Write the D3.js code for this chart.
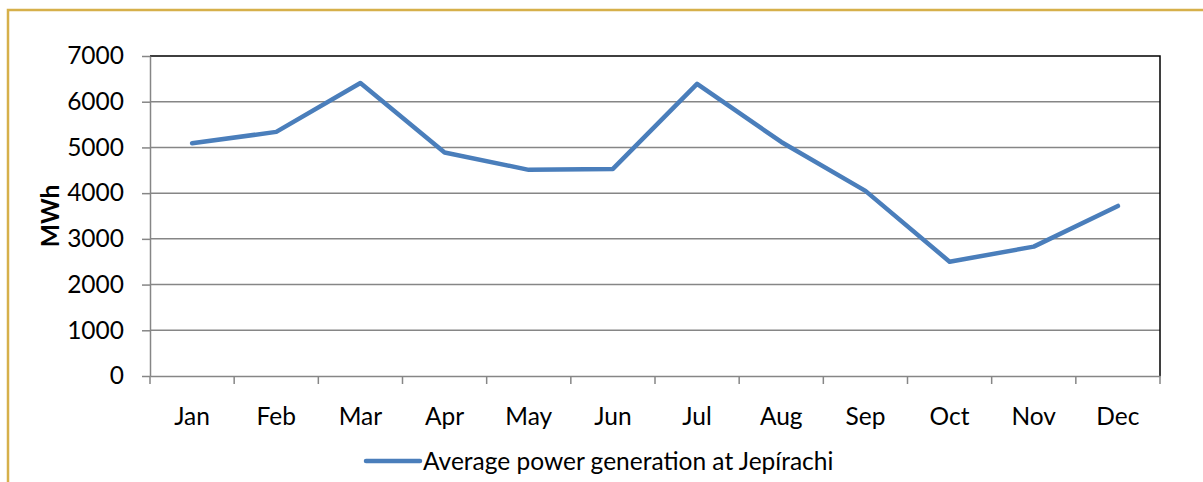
<!DOCTYPE html>
<html>
<head>
<meta charset="utf-8">
<script src="https://cdn.jsdelivr.net/npm/d3@7"></script>
<style>
  body { margin: 0; background: #fff; }
  svg text { font-family: Lato, "Open Sans", sans-serif; fill: #000; }
</style>
</head>
<body>
<svg id="chart"></svg>
<script>
// Chart data
const months = ["Jan", "Feb", "Mar", "Apr", "May", "Jun", "Jul", "Aug", "Sep", "Oct", "Nov", "Dec"];
const generation = [5090, 5340, 6410, 4890, 4510, 4530, 6390, 5120, 4050, 2500, 2830, 3720];
const yTicks = [0, 1000, 2000, 3000, 4000, 5000, 6000, 7000];
const seriesName = "Average power generation at Jepírachi";

const width = 1203;
const height = 482;
const margin = { top: 56, right: 43, bottom: 106, left: 150 };
const fontSize = "24.5px";

const svg = d3.select("#chart")
    .attr("width", width)
    .attr("height", height);

// Gold frame round the chart
svg.append("rect")
    .attr("x", 8)
    .attr("y", 10)
    .attr("width", width + 20)
    .attr("height", height + 20)
    .attr("fill", "none")
    .attr("stroke", "#d6b04a")
    .attr("stroke-width", 2.5);

const x = d3.scaleBand()
    .domain(months)
    .range([margin.left, width - margin.right]);

const y = d3.scaleLinear()
    .domain([0, 7000])
    .range([height - margin.bottom, margin.top]);

const plotRight = width - margin.right;
const plotBottom = height - margin.bottom;

// Horizontal gridlines
svg.append("g")
    .selectAll("line")
    .data(yTicks.slice(1, -1))
    .enter()
    .append("line")
    .attr("x1", margin.left)
    .attr("x2", plotRight)
    .attr("y1", d => y(d))
    .attr("y2", d => y(d))
    .attr("stroke", "#868686")
    .attr("stroke-width", 1.5);

// Plot area outline: top and right in black
svg.append("path")
    .attr("d", `M${margin.left},${margin.top}H${plotRight}V${plotBottom}`)
    .attr("fill", "none")
    .attr("stroke", "#000")
    .attr("stroke-width", 1.5);

// Y axis
const yAxis = svg.append("g")
    .attr("transform", `translate(${margin.left},0)`)
    .call(d3.axisLeft(y).tickValues(yTicks).tickFormat(d3.format("d"))
        .tickSize(8).tickPadding(18).tickSizeOuter(0));
yAxis.select(".domain").attr("stroke", "#868686").attr("stroke-width", 1.5);
yAxis.selectAll(".tick line").attr("stroke", "#868686").attr("stroke-width", 1.5);
yAxis.selectAll(".tick text").style("font-size", fontSize);

// X axis with ticks at category boundaries
const xAxis = svg.append("g")
    .attr("transform", `translate(0,${plotBottom})`)
    .call(d3.axisBottom(x).tickSize(0).tickPadding(32));
xAxis.select(".domain").attr("stroke", "#868686").attr("stroke-width", 1.5);
xAxis.selectAll(".tick text").style("font-size", fontSize);

const boundaries = months.map(m => x(m)).concat([plotRight]);
xAxis.selectAll(".boundary")
    .data(boundaries)
    .enter()
    .append("line")
    .attr("class", "boundary")
    .attr("x1", d => d)
    .attr("x2", d => d)
    .attr("y1", 0)
    .attr("y2", 8)
    .attr("stroke", "#868686")
    .attr("stroke-width", 1.5);

// Y axis title
svg.append("text")
    .attr("transform", `translate(59,${(margin.top + plotBottom) / 2}) rotate(-90)`)
    .attr("text-anchor", "middle")
    .style("font-size", fontSize)
    .style("font-weight", "bold")
    .text("MWh");

// Series line
const line = d3.line()
    .x((d, i) => x(months[i]) + x.bandwidth() / 2)
    .y(d => y(d));

svg.append("path")
    .datum(generation)
    .attr("d", line)
    .attr("fill", "none")
    .attr("stroke", "#4a7ebb")
    .attr("stroke-width", 4.5)
    .attr("stroke-linejoin", "round")
    .attr("stroke-linecap", "round");

// Legend
const legend = svg.append("g")
    .attr("transform", "translate(366,461)");

legend.append("line")
    .attr("x1", 0)
    .attr("x2", 54)
    .attr("stroke", "#4a7ebb")
    .attr("stroke-width", 4.5)
    .attr("stroke-linecap", "round");

legend.append("text")
    .attr("x", 57)
    .attr("dy", "0.35em")
    .style("font-size", fontSize)
    .text(seriesName);
</script>
</body>
</html>
